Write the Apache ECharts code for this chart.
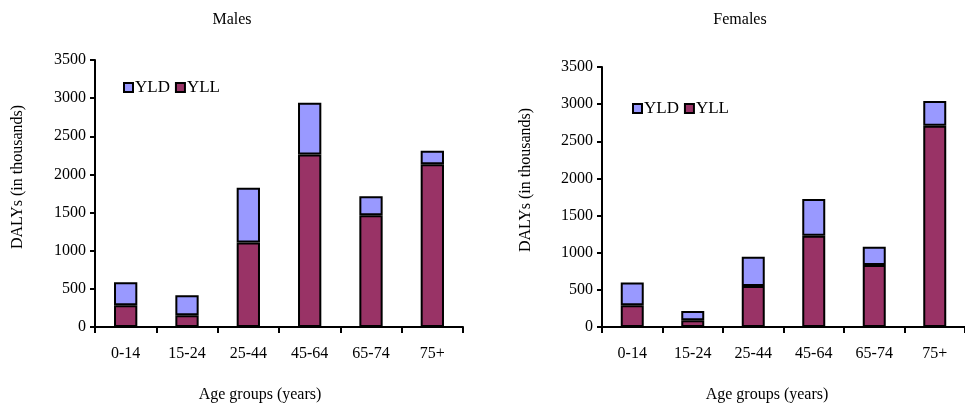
<!DOCTYPE html>
<html>
<head>
<meta charset="utf-8">
<script src="https://cdn.jsdelivr.net/npm/echarts@6/dist/echarts.min.js"></script>
<style>html,body{margin:0;padding:0;background:#fff}#c{width:965px;height:406px}</style>
</head>
<body>
<div id="c"></div>
<script>
var categories = ['0-14', '15-24', '25-44', '45-64', '65-74', '75+'];
var malesYLL = [285, 153, 1107, 2262, 1466, 2135];
var malesYLD = [300, 263, 717, 678, 249, 175];
var femalesYLL = [293, 90, 553, 1228, 833, 2709];
var femalesYLD = [306, 126, 392, 496, 247, 332];
var yTicks = { min: 0, max: 3500, interval: 500 };

var FONT = 'Liberation Serif';
var chart = echarts.init(document.getElementById('c'), null, { renderer: 'canvas' });

function xAxis(gi) {
  return {
    type: 'category', gridIndex: gi, data: categories,
    axisLine: { lineStyle: { color: '#000', width: 2 } },
    axisTick: { show: true, length: 6, lineStyle: { color: '#000', width: 2 } },
    axisLabel: { color: '#000', fontFamily: FONT, fontSize: 16, margin: 19 },
    splitLine: { show: false }
  };
}
function yAxis(gi) {
  return {
    type: 'value', gridIndex: gi, min: yTicks.min, max: yTicks.max, interval: yTicks.interval,
    axisLine: { show: true, lineStyle: { color: '#000', width: 2 } },
    axisTick: { show: true, length: 5, lineStyle: { color: '#000', width: 2 } },
    axisLabel: { color: '#000', fontFamily: FONT, fontSize: 16, margin: 9,
      formatter: function (v) { return String(v); } },
    splitLine: { show: false }
  };
}
function bar(name, data, gi, stack, color) {
  return {
    name: name, type: 'bar', data: data, xAxisIndex: gi, yAxisIndex: gi, stack: stack,
    barWidth: '38%',
    itemStyle: { color: color, borderColor: '#000', borderWidth: 2 },
    emphasis: { disabled: true }
  };
}
var C_YLD = '#9999FF', C_YLL = '#993366';

function txt(x, y, s, rot) {
  return {
    type: 'text', x: x, y: y, rotation: rot || 0,
    style: { text: s, fill: '#000', font: '16px "' + FONT + '"', textAlign: 'center', textVerticalAlign: 'middle' }
  };
}

chart.setOption({
  animation: false,
  grid: [
    { left: 95, top: 60, width: 368, height: 267 },
    { left: 602, top: 67, width: 369, height: 260 }
  ],
  xAxis: [xAxis(0), xAxis(1)],
  yAxis: [yAxis(0), yAxis(1)],
  legend: [
    { data: ['YLD', 'YLL'], left: 118, top: 74, itemWidth: 9, itemHeight: 9, itemGap: 5, icon: 'rect',
      textStyle: { color: '#000', fontFamily: FONT, fontSize: 17, padding: [0, 0, 0, -3] } },
    { data: ['YLD', 'YLL'], left: 627, top: 95, itemWidth: 9, itemHeight: 9, itemGap: 5, icon: 'rect',
      textStyle: { color: '#000', fontFamily: FONT, fontSize: 17, padding: [0, 0, 0, -3] } }
  ],
  series: [
    bar('YLL', malesYLL, 0, 'm', C_YLL),
    bar('YLD', malesYLD, 0, 'm', C_YLD),
    bar('YLL', femalesYLL, 1, 'f', C_YLL),
    bar('YLD', femalesYLD, 1, 'f', C_YLD)
  ],
  graphic: [
    txt(232, 20, 'Males'),
    txt(740, 20, 'Females'),
    txt(18, 177, 'DALYs (in thousands)', Math.PI / 2),
    txt(526, 180, 'DALYs (in thousands)', Math.PI / 2),
    txt(260, 395, 'Age groups (years)'),
    txt(767, 395, 'Age groups (years)')
  ]
});
</script>
</body>
</html>
